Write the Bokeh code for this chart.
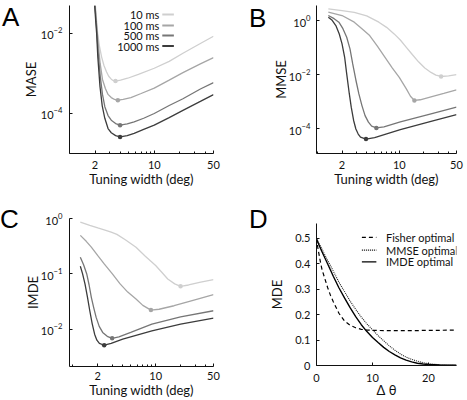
from bokeh.plotting import figure
from bokeh.layouts import column, row
from bokeh.models import FixedTicker, BasicTickFormatter, Label, Range1d, Div
from bokeh.embed import file_html
from bokeh.resources import INLINE

# ---------------- data ----------------
durations = ["10 ms", "100 ms", "500 ms", "1000 ms"]
dur_colors = ["#cfcfcf", "#a6a6a6", "#767676", "#3c3c3c"]

# Panel A: MASE vs tuning width (deg)
a_w_10 = [2.02, 2.09, 2.15, 2.25, 2.39, 2.55, 2.73, 2.9, 3.11, 3.3, 3.49, 4.0, 4.85, 6.5, 10, 15, 21.8, 35, 50]
a_v_10 = [0.0501, 0.02, 0.01, 5.0e-3, 2.6e-3, 1.58e-3, 1.1e-3, 8.5e-4, 7.2e-4, 6.6e-4, 6.45e-4, 6.8e-4, 7.6e-4, 9.5e-4, 1.35e-3, 2.0e-3, 3.2e-3, 5.6e-3, 8.5e-3]
a_w_100 = [2.0, 2.07, 2.13, 2.2, 2.3, 2.45, 2.65, 2.85, 3.11, 3.4, 3.72, 4.3, 5.3, 7, 10, 15, 21.8, 35, 50]
a_v_100 = [0.0501, 0.02, 0.01, 4.5e-3, 1.78e-3, 7.1e-4, 4.2e-4, 3.0e-4, 2.5e-4, 2.24e-4, 2.15e-4, 2.24e-4, 2.5e-4, 3.16e-4, 4.3e-4, 6.8e-4, 1.05e-3, 1.74e-3, 2.5e-3]
a_w_500 = [2.0, 2.06, 2.11, 2.18, 2.31, 2.45, 2.61, 2.85, 3.11, 3.5, 3.95, 4.8, 5.79, 7.5, 10, 15, 21.8, 35, 50]
a_v_500 = [0.0501, 0.02, 0.01, 3.16e-3, 8.3e-4, 3.0e-4, 1.48e-4, 8.9e-5, 6.8e-5, 5.6e-5, 5.1e-5, 5.5e-5, 6.2e-5, 7.6e-5, 1.0e-4, 1.58e-4, 2.34e-4, 4.1e-4, 5.9e-4]
a_w_1000 = [1.98, 2.04, 2.09, 2.16, 2.29, 2.43, 2.61, 2.85, 3.11, 3.5, 3.95, 4.8, 5.79, 7.5, 10, 15, 21.8, 35, 50]
a_v_1000 = [0.0501, 0.02, 0.01, 2.5e-3, 4.7e-4, 1.58e-4, 7.6e-5, 4.2e-5, 3.3e-5, 2.8e-5, 2.6e-5, 2.8e-5, 3.2e-5, 4.0e-5, 5.1e-5, 7.9e-5, 1.2e-4, 2.0e-4, 2.95e-4]
a_opt_w = [3.49, 3.72, 3.95, 3.95]
a_opt_v = [6.45e-4, 2.15e-4, 5.1e-5, 2.6e-5]

# Panel B: MMSE vs tuning width (deg)
b_w_10 = [1.36, 2.0, 2.82, 4.0, 5.63, 7.0, 8.66, 10.3, 12.2, 14.5, 17.3, 20.5, 24.4, 28, 32.4, 40, 50]
b_v_10 = [2.7, 2.34, 2.0, 1.48, 0.87, 0.56, 0.32, 0.19, 0.102, 0.054, 0.029, 0.0174, 0.012, 9.5e-3, 8.5e-3, 8.9e-3, 0.01]
b_w_100 = [1.36, 2.0, 2.82, 3.5, 4.35, 5.4, 6.7, 8.2, 10, 12.2, 13.7, 15.3, 18, 24.4, 35, 50]
b_v_100 = [2.04, 1.53, 0.87, 0.50, 0.278, 0.112, 0.0437, 0.0178, 7.9e-3, 2.95e-3, 1.58e-3, 1.1e-3, 1.17e-3, 1.5e-3, 2.0e-3, 2.7e-3]
b_w_500 = [1.36, 1.6, 1.83, 2.05, 2.28, 2.5, 2.7, 2.95, 3.21, 3.5, 3.82, 4.2, 4.6, 5.25, 6.5, 10.3, 24.4, 50]
b_v_500 = [1.53, 1.17, 0.87, 0.50, 0.241, 0.089, 0.0248, 6.3e-3, 1.92e-3, 7.1e-4, 3.03e-4, 1.74e-4, 1.23e-4, 1.06e-4, 1.17e-4, 1.78e-4, 3.5e-4, 6.2e-4]
b_w_1000 = [1.36, 1.5, 1.68, 1.85, 2.0, 2.15, 2.28, 2.45, 2.59, 2.77, 2.95, 3.15, 3.36, 3.92, 5.0, 10.3, 24.4, 50]
b_v_1000 = [1.33, 1.05, 0.653, 0.316, 0.137, 0.0447, 0.0106, 2.0e-3, 6.2e-4, 2.0e-4, 9.7e-5, 6.3e-5, 4.8e-5, 4.1e-5, 4.6e-5, 9.1e-5, 1.86e-4, 3.3e-4]
b_opt_w = [32.4, 15.3, 5.25, 3.92]
b_opt_v = [8.5e-3, 1.1e-3, 1.06e-4, 4.1e-5]

# Panel C: IMDE vs tuning width (deg)
c_w_10 = [1.23, 1.6, 2.0, 2.39, 2.9, 3.4, 4.3, 5.79, 7.5, 10, 12, 14, 17, 20, 25, 35, 50]
c_v_10 = [0.87, 0.76, 0.68, 0.63, 0.57, 0.52, 0.417, 0.305, 0.209, 0.142, 0.105, 0.081, 0.066, 0.0597, 0.063, 0.071, 0.079]
c_w_100 = [1.23, 1.45, 1.67, 2.0, 2.39, 3.0, 3.72, 4.6, 5.79, 7.0, 8.77, 11, 16.7, 25, 50]
c_v_100 = [0.50, 0.39, 0.305, 0.214, 0.152, 0.10, 0.066, 0.0468, 0.035, 0.0269, 0.0221, 0.0229, 0.0265, 0.0316, 0.042]
c_w_500 = [1.23, 1.35, 1.47, 1.57, 1.67, 1.79, 1.91, 2.08, 2.29, 2.6, 2.98, 3.6, 5.0, 9.0, 20, 50]
c_v_500 = [0.201, 0.145, 0.1, 0.063, 0.0377, 0.024, 0.0163, 0.0112, 8.7e-3, 7.4e-3, 6.8e-3, 7.2e-3, 8.7e-3, 0.0123, 0.0166, 0.0215]
c_w_1000 = [1.23, 1.31, 1.40, 1.50, 1.60, 1.71, 1.83, 1.95, 2.09, 2.39, 2.9, 4.0, 9.0, 20, 50]
c_v_1000 = [0.138, 0.1, 0.0658, 0.038, 0.0215, 0.0126, 8.1e-3, 6.3e-3, 5.5e-3, 5.1e-3, 5.5e-3, 6.6e-3, 9.3e-3, 0.0123, 0.0158]
c_opt_w = [20.0, 8.77, 2.98, 2.39]
c_opt_v = [0.0597, 0.0221, 6.8e-3, 5.1e-3]

# Panel D: MDE vs delta theta
d_theta = [0, 1, 2, 3, 4, 5, 6, 7, 8, 9, 10, 11, 12, 13, 14, 15, 16, 17, 18, 19, 20, 22, 25]
d_mmse = [0.5, 0.455, 0.412, 0.37, 0.327, 0.29, 0.253, 0.22, 0.19, 0.163, 0.14, 0.117, 0.097, 0.077, 0.06, 0.045, 0.033, 0.024, 0.017, 0.011, 0.007, 0.003, 0.001]
d_imde = [0.495, 0.445, 0.398, 0.35, 0.305, 0.265, 0.227, 0.192, 0.16, 0.133, 0.11, 0.09, 0.071, 0.055, 0.042, 0.03, 0.021, 0.014, 0.009, 0.006, 0.004, 0.002, 0.001]
d_theta_fisher = [0, 0.25, 0.5, 0.75, 1, 1.5, 2, 2.5, 3, 4, 5, 6, 7, 8, 9, 10, 12, 15, 18, 20, 22, 25]
d_fisher = [0.5, 0.46, 0.43, 0.40, 0.375, 0.34, 0.305, 0.275, 0.25, 0.205, 0.175, 0.158, 0.148, 0.142, 0.139, 0.138, 0.137, 0.137, 0.137, 0.138, 0.138, 0.139]
d_labels = ["Fisher optimal", "MMSE optimal", "IMDE optimal"]
d_dashes = ["4 3", "1 1", "solid"]

panel_letters = ["A", "B", "C", "D"]
log_xticks = [2, 10, 50]
log_xminor = [1, 3, 4, 5, 6, 7, 8, 9, 20, 30, 40]
a_yticks = [1e-2, 1e-4]
b_yticks = [1e0, 1e-2, 1e-4]
c_yticks = [1e0, 1e-1, 1e-2]
d_xticks = [0, 10, 20]
d_yticks = [0, 0.1, 0.2, 0.3, 0.4, 0.5]

FONT = "Lato"
LETTER_FONT = "Liberation Sans"
ROW_H = 200


def make_fig(w, h, bl, br, bt, bb, xr, yr, xlog, ylog):
    p = figure(width=w, height=h, title=None,
               min_border_left=bl, min_border_right=br,
               min_border_top=bt, min_border_bottom=bb,
               x_range=Range1d(*xr), y_range=Range1d(*yr),
               x_axis_type="log" if xlog else "linear",
               y_axis_type="log" if ylog else "linear",
               output_backend="svg", toolbar_location=None,
               background_fill_color="white", border_fill_color="white")
    p.outline_line_color = None
    p.grid.visible = False
    for ax in (p.xaxis[0], p.yaxis[0]):
        ax.axis_line_color = "#111111"
        ax.axis_line_width = 1
        ax.major_tick_in = 3
        ax.major_tick_out = 0
        ax.minor_tick_in = 2
        ax.minor_tick_out = 0
        ax.major_tick_line_color = "#111111"
        ax.minor_tick_line_color = "#111111"
        ax.major_label_text_font = FONT
        ax.major_label_text_font_size = "11px"
        ax.major_label_text_color = "#111111"
        ax.axis_label_text_font = FONT
        ax.axis_label_text_font_size = "13px"
        ax.axis_label_text_font_style = "normal"
        ax.axis_label_text_color = "#111111"
    return p


def log_pos(lo, hi, frac):
    return lo * (hi / lo) ** frac


def lin_pos(lo, hi, frac):
    return lo + (hi - lo) * frac


def duration_panel(p, ws, vs, opt_w, opt_v):
    for w, v, c in zip(ws, vs, dur_colors):
        p.line(w, v, line_color=c, line_width=1.3)
    p.scatter(opt_w, opt_v, size=4.5, color=dur_colors, line_color=None)


def log_x_axis(p):
    p.xaxis.ticker = FixedTicker(ticks=log_xticks, minor_ticks=log_xminor)
    p.xaxis.formatter = BasicTickFormatter()
    p.xaxis.axis_label = "Tuning width (deg)"


# ---------------- Panel A ----------------
A_XR, A_YR = (1, 50), (1e-5, 0.05)
A_FW, A_FH = 149, 148
pa = make_fig(215, ROW_H, 48, 18, 5, 47, A_XR, A_YR, True, True)
duration_panel(pa, [a_w_10, a_w_100, a_w_500, a_w_1000],
               [a_v_10, a_v_100, a_v_500, a_v_1000], a_opt_w, a_opt_v)
log_x_axis(pa)
pa.yaxis.ticker = FixedTicker(ticks=a_yticks, minor_ticks=[])
pa.yaxis.axis_label = "MASE"
pa.xaxis.major_label_standoff = 7
pa.xaxis.axis_label_standoff = -1
pa.yaxis.major_label_standoff = 7
pa.yaxis.axis_label_standoff = -1
a_leg_rows = [139, 128, 118, 107.5]
for lab, col, sy in zip(durations, dur_colors, a_leg_rows):
    yv = log_pos(A_YR[0], A_YR[1], sy / A_FH)
    pa.add_layout(Label(text=lab, x=log_pos(A_XR[0], A_XR[1], 93 / A_FW), y=yv,
                        text_font=FONT, text_font_size="11px", text_align="right",
                        text_baseline="middle", text_color="#111111"))
    pa.line([log_pos(A_XR[0], A_XR[1], 96 / A_FW), log_pos(A_XR[0], A_XR[1], 108 / A_FW)],
            [yv, yv], line_color=col, line_width=2)

# ---------------- Panel B ----------------
B_XR, B_YR = (0.975, 50), (1.2e-5, 3.6)
pb = make_fig(201, ROW_H, 44, 7, 5, 47, B_XR, B_YR, True, True)
duration_panel(pb, [b_w_10, b_w_100, b_w_500, b_w_1000],
               [b_v_10, b_v_100, b_v_500, b_v_1000], b_opt_w, b_opt_v)
log_x_axis(pb)
pb.yaxis.ticker = FixedTicker(ticks=b_yticks, minor_ticks=[])
pb.yaxis.axis_label = "MMSE"
pb.xaxis.major_label_standoff = 7
pb.xaxis.axis_label_standoff = -1
pb.yaxis.major_label_standoff = 6
pb.yaxis.axis_label_standoff = -3

# ---------------- Panel C ----------------
C_XR, C_YR = (0.91, 50), (2.1e-3, 1.01)
pc = make_fig(215, ROW_H, 45, 21, 18, 34, C_XR, C_YR, True, True)
duration_panel(pc, [c_w_10, c_w_100, c_w_500, c_w_1000],
               [c_v_10, c_v_100, c_v_500, c_v_1000], c_opt_w, c_opt_v)
log_x_axis(pc)
pc.yaxis.ticker = FixedTicker(ticks=c_yticks, minor_ticks=[])
pc.yaxis.axis_label = "IMDE"
pc.xaxis.major_label_standoff = 5
pc.xaxis.axis_label_standoff = -1
pc.yaxis.major_label_standoff = 7
pc.yaxis.axis_label_standoff = -3

# ---------------- Panel D ----------------
D_XR, D_YR = (0, 25), (0, 0.557)
D_FW, D_FH = 145, 144
pd_ = make_fig(201, ROW_H, 45, 11, 23, 33, D_XR, D_YR, False, False)
pd_.line(d_theta_fisher, d_fisher, line_color="black", line_width=1.2, line_dash=d_dashes[0])
pd_.line(d_theta, d_mmse, line_color="#222222", line_width=1.1, line_dash=d_dashes[1])
pd_.line(d_theta, d_imde, line_color="black", line_width=1.4, line_dash=d_dashes[2])
pd_.xaxis.ticker = FixedTicker(ticks=d_xticks, minor_ticks=[])
pd_.yaxis.ticker = FixedTicker(ticks=d_yticks, minor_ticks=[])
pd_.yaxis.major_label_overrides = {0: "0"}
pd_.xaxis.axis_label = "Δ θ"
pd_.yaxis.axis_label = "MDE"
pd_.xaxis.major_label_standoff = 8
pd_.xaxis.axis_label_standoff = -3
pd_.yaxis.major_label_standoff = 6
pd_.yaxis.axis_label_standoff = 7
d_leg_rows = [130, 117, 105]
for lab, dash, sy in zip(d_labels, d_dashes, d_leg_rows):
    yv = lin_pos(D_YR[0], D_YR[1], sy / D_FH)
    pd_.line([lin_pos(D_XR[0], D_XR[1], 47 / D_FW), lin_pos(D_XR[0], D_XR[1], 62 / D_FW)],
             [yv, yv], line_color="black", line_width=1.2, line_dash=dash)
    pd_.add_layout(Label(text=lab, x=lin_pos(D_XR[0], D_XR[1], 72 / D_FW), y=yv,
                         text_font=FONT, text_font_size="11px", text_align="left",
                         text_baseline="middle", text_color="#111111"))


# ---------------- panel letters ----------------
def letter_div(txt, width, pad_left, baseline):
    # Liberation Sans: with line-height equal to the font size the baseline sits ~22px below the top
    pad_top = baseline - 22
    html = ('<div style="margin:0;padding:%dpx 0 0 %dpx;font-family:\'Liberation Sans\';'
            'font-size:26px;line-height:26px;color:black;">%s</div>' % (pad_top, pad_left, txt))
    return Div(text=html, width=width, height=ROW_H, margin=0)


la = letter_div(panel_letters[0], 19, 2, 26)
lc = letter_div(panel_letters[2], 19, 0, 28)
lb = letter_div(panel_letters[1], 32, 15, 27)
ld = letter_div(panel_letters[3], 32, 15, 28)

layout = row(column(la, lc), column(pa, pc), column(lb, ld), column(pb, pd_))
open("out.html", "w").write(file_html(layout, INLINE))
